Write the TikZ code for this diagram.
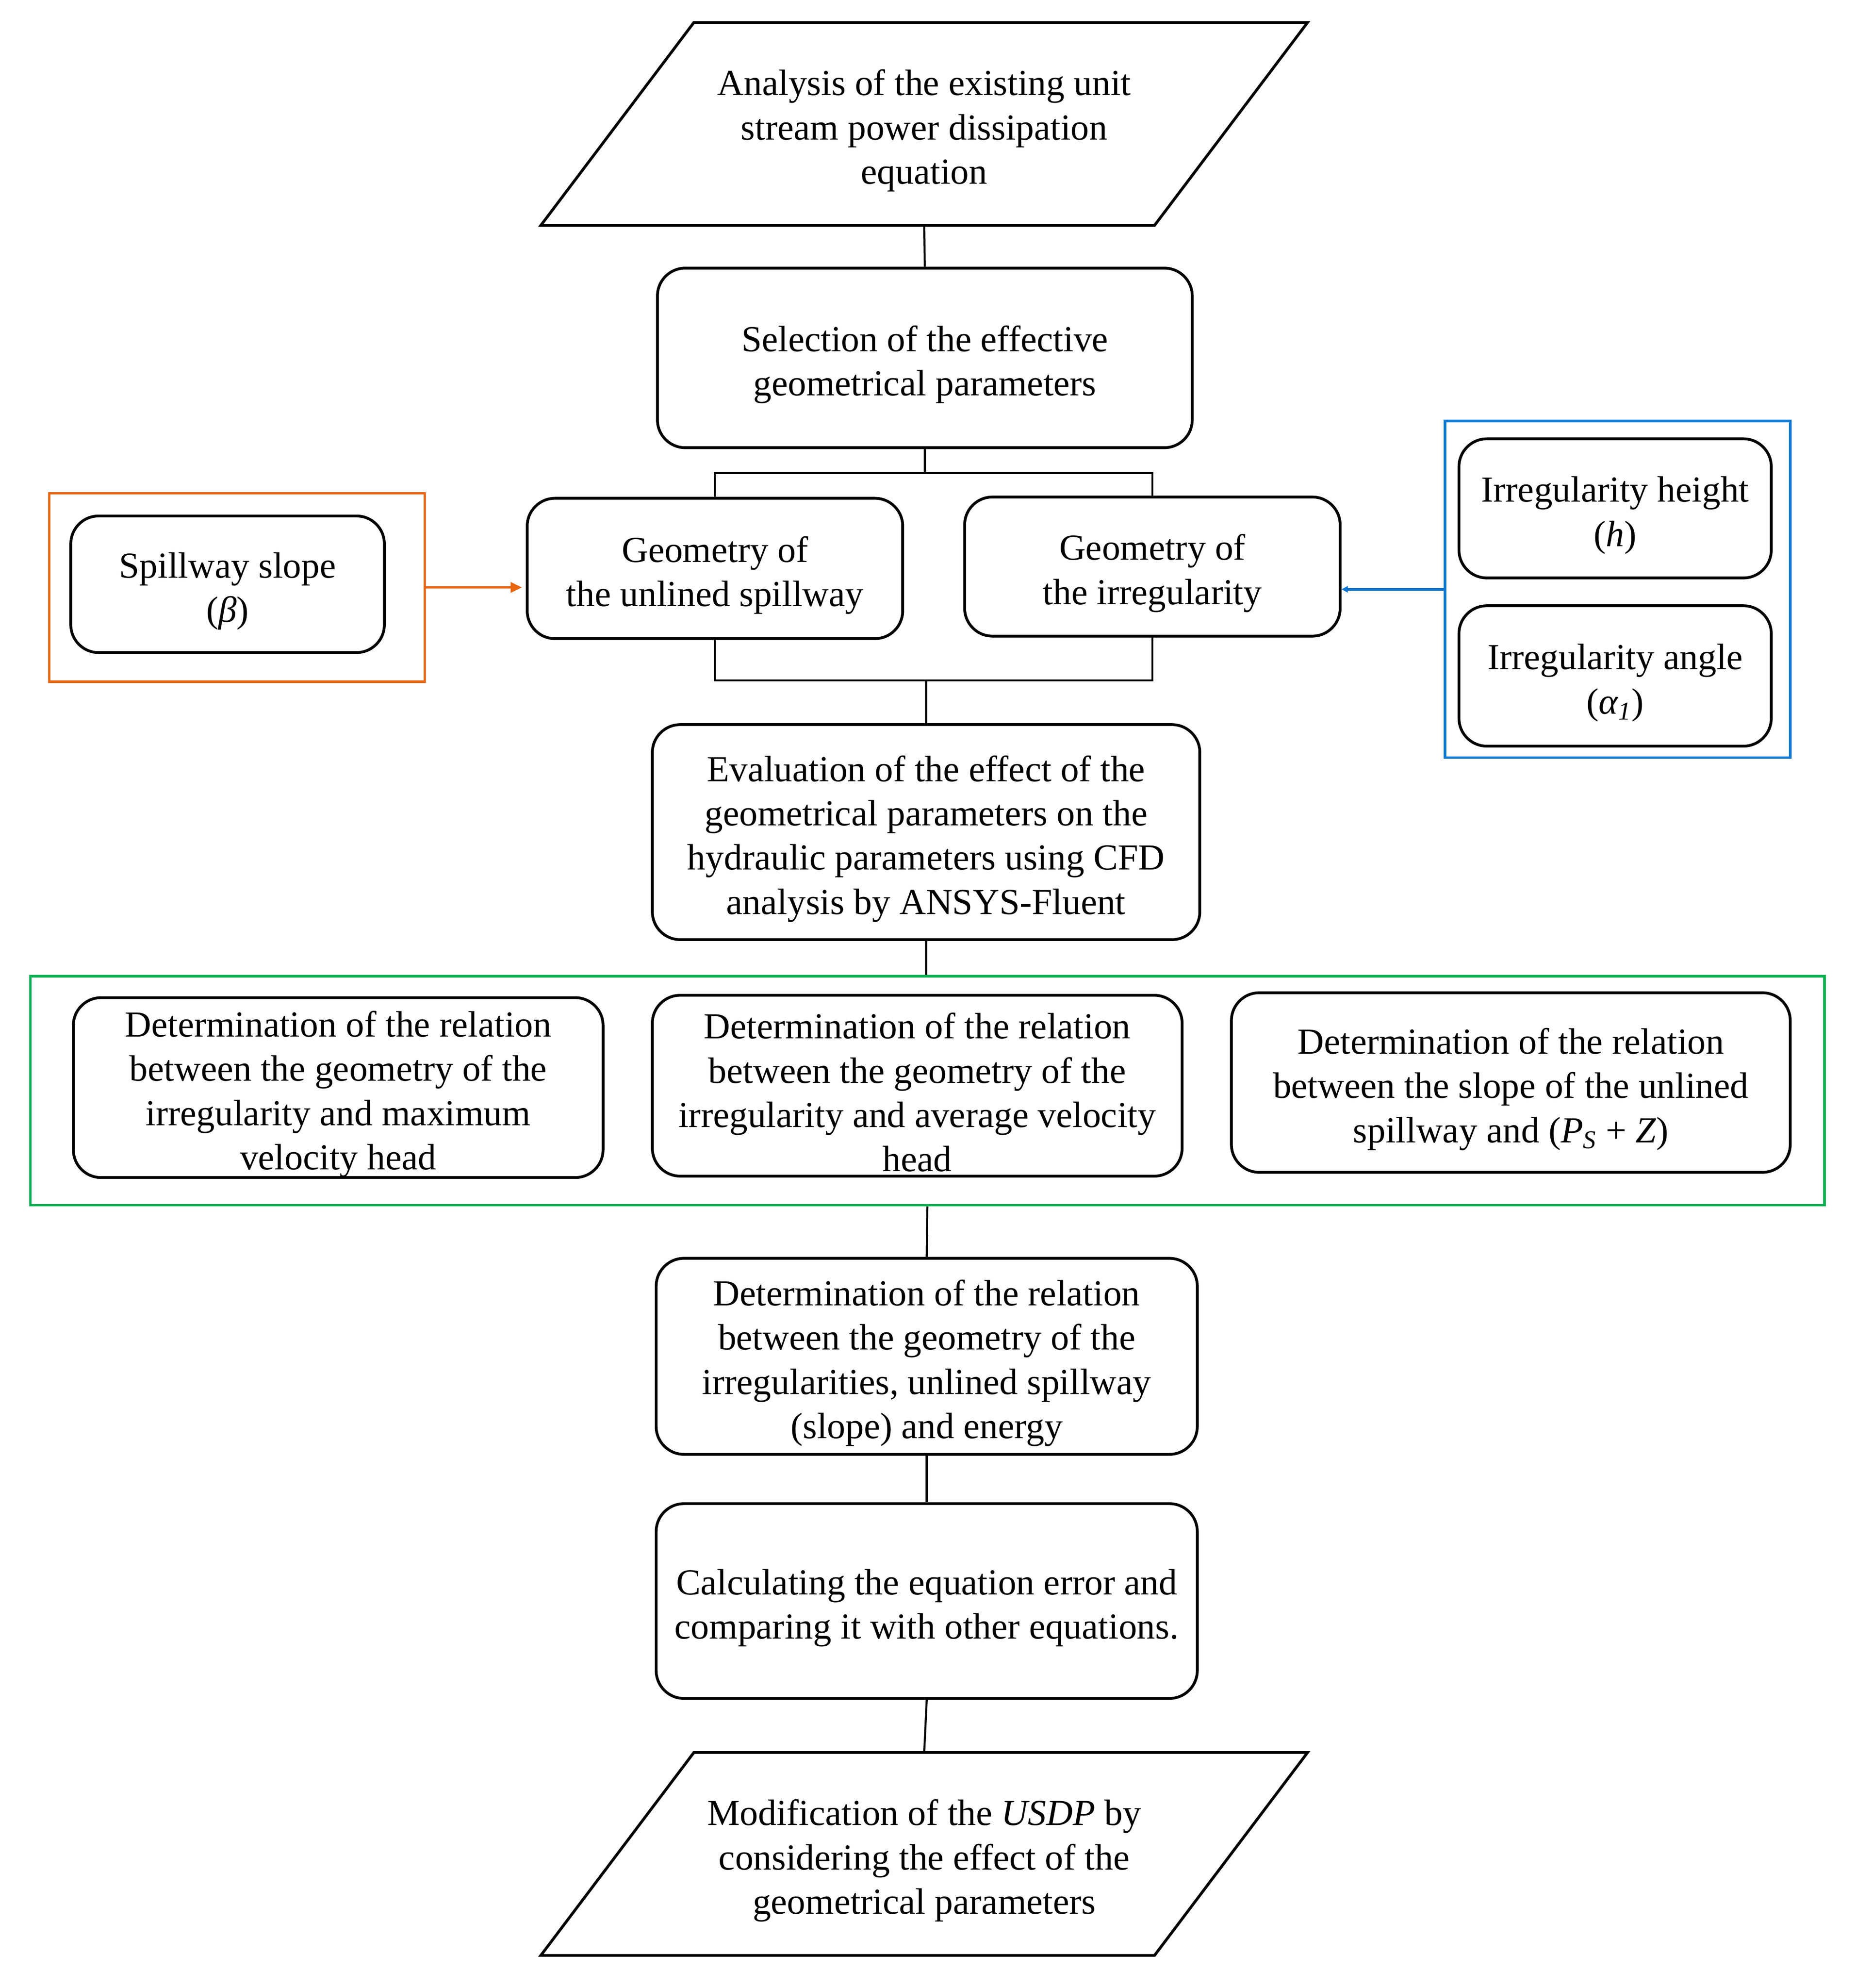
\documentclass[tikz,border=0pt]{standalone}
\usepackage{fontspec}
\setmainfont{Liberation Serif}
\usetikzlibrary{arrows.meta}
\definecolor{ocol}{RGB}{232,102,16}
\definecolor{bcol}{RGB}{16,120,208}
\definecolor{gcol}{RGB}{0,176,80}
\newcommand{\fstrut}{\rule{0pt}{31pt}}
\begin{document}
\begin{tikzpicture}[x=1pt,y=-1pt,
  txt/.style={inner sep=0pt, align=center, font=\fontsize{29}{35}\selectfont},
  box/.style={txt, draw, line width=2.2pt, rounded corners=22pt},
  para/.style={txt, minimum width=485pt, minimum height=160pt},
  paraline/.style={line width=2.2pt, line join=miter},
  frame/.style={draw, line width=2pt, inner sep=0pt},
  conn/.style={line width=1.6pt},
  oarrow/.style={line width=2pt, ocol, -{Triangle[length=9pt,width=8pt]}, shorten >=3pt},
  barrow/.style={line width=2pt, bcol, -{Triangle[length=5pt,width=5pt]}}
]
\useasboundingbox (0,0) rectangle (1468,1572);

% top parallelogram
\node[para] (P1) at (731,98) {\fstrut Analysis of the existing unit\\stream power dissipation\\equation};
\draw[paraline] ([xshift=60.5pt]P1.north west) -- ([xshift=60.5pt]P1.north east)
  -- ([xshift=-60.5pt]P1.south east) -- ([xshift=-60.5pt]P1.south west) -- cycle;

\node[box, minimum width=423pt, minimum height=142pt] (S1) at (731.5,283)
  {\fstrut Selection of the effective\\geometrical parameters};

\node[box, minimum width=297pt, minimum height=111pt] (G1) at (565.5,449.5)
  {\fstrut Geometry of\\the unlined spillway};
\node[box, minimum width=297pt, minimum height=110pt] (G2) at (911.5,448)
  {\fstrut Geometry of\\the irregularity};

% orange group
\node[frame, ocol, minimum width=297pt, minimum height=149pt] (orf) at (187.5,464.5) {};
\node[box, minimum width=248pt, minimum height=108pt] (SP) at (180,462)
  {\fstrut Spillway slope\\(\textit{β})};

% blue group
\node[frame, bcol, minimum width=273pt, minimum height=266pt] (blf) at (1279.5,466) {};
\node[box, minimum width=247pt, minimum height=110pt] (H) at (1277.5,402)
  {\fstrut Irregularity height\\(\textit{h})};
\node[box, minimum width=247pt, minimum height=111pt] (AN) at (1277.5,534.5)
  {\fstrut Irregularity angle\\(\textit{α\textsubscript{1}})};

\node[box, minimum width=433pt, minimum height=170pt] (E) at (732.5,658)
  {\fstrut Evaluation of the effect of the\\geometrical parameters on the\\hydraulic parameters using CFD\\analysis by ANSYS-Fluent};

% green group
\node[frame, gcol, minimum width=1419pt, minimum height=181pt] (grf) at (733.5,862.5) {};
\node[box, minimum width=419pt, minimum height=142pt] (A) at (267.5,860)
  {\fstrut Determination of the relation\\between the geometry of the\\irregularity and maximum\\velocity head};
\node[box, minimum width=419pt, minimum height=143pt] (B) at (725.5,858.5)
  {\fstrut Determination of the relation\\between the geometry of the\\irregularity and average velocity\\head};
\node[box, minimum width=442pt, minimum height=142pt] (C) at (1195,856)
  {\fstrut Determination of the relation\\between the slope of the unlined\\spillway and (\textit{P}\textsubscript{\textit{S}} + \textit{Z})};

\node[box, minimum width=428pt, minimum height=155pt] (D) at (733,1072.5)
  {\fstrut Determination of the relation\\between the geometry of the\\irregularities, unlined spillway\\(slope) and energy};
\node[box, minimum width=428pt, minimum height=154pt] (F) at (733,1266)
  {\fstrut Calculating the equation error and\\comparing it with other equations.};

% bottom parallelogram
\node[para] (P2) at (731,1466) {\fstrut Modification of the \textit{USDP} by\\considering the effect of the\\geometrical parameters};
\draw[paraline] ([xshift=60.5pt]P2.north west) -- ([xshift=60.5pt]P2.north east)
  -- ([xshift=-60.5pt]P2.south east) -- ([xshift=-60.5pt]P2.south west) -- cycle;

% connectors
\coordinate (j1) at (731.5,374);
\coordinate (j2) at (732.5,538);
\draw[conn] (P1.south) -- (S1.north);
\draw[conn] (S1.south) -- (j1);
\draw[conn] (G1.north) |- (j1) -| (G2.north);
\draw[conn] (G1.south) |- (j2) -| (G2.south);
\draw[conn] (j2) -- (E.north);
\draw[conn] (E.south) -- (E.south |- grf.north);
\draw[conn] (grf.south) -- (D.north);
\draw[conn] (D.south) -- (F.north);
\draw[conn] (F.south) -- (P2.north);

\draw[oarrow] (orf.east) -- (orf.east -| G1.west);
\draw[barrow] (blf.west) -- (blf.west -| G2.east);
\end{tikzpicture}
\end{document}
